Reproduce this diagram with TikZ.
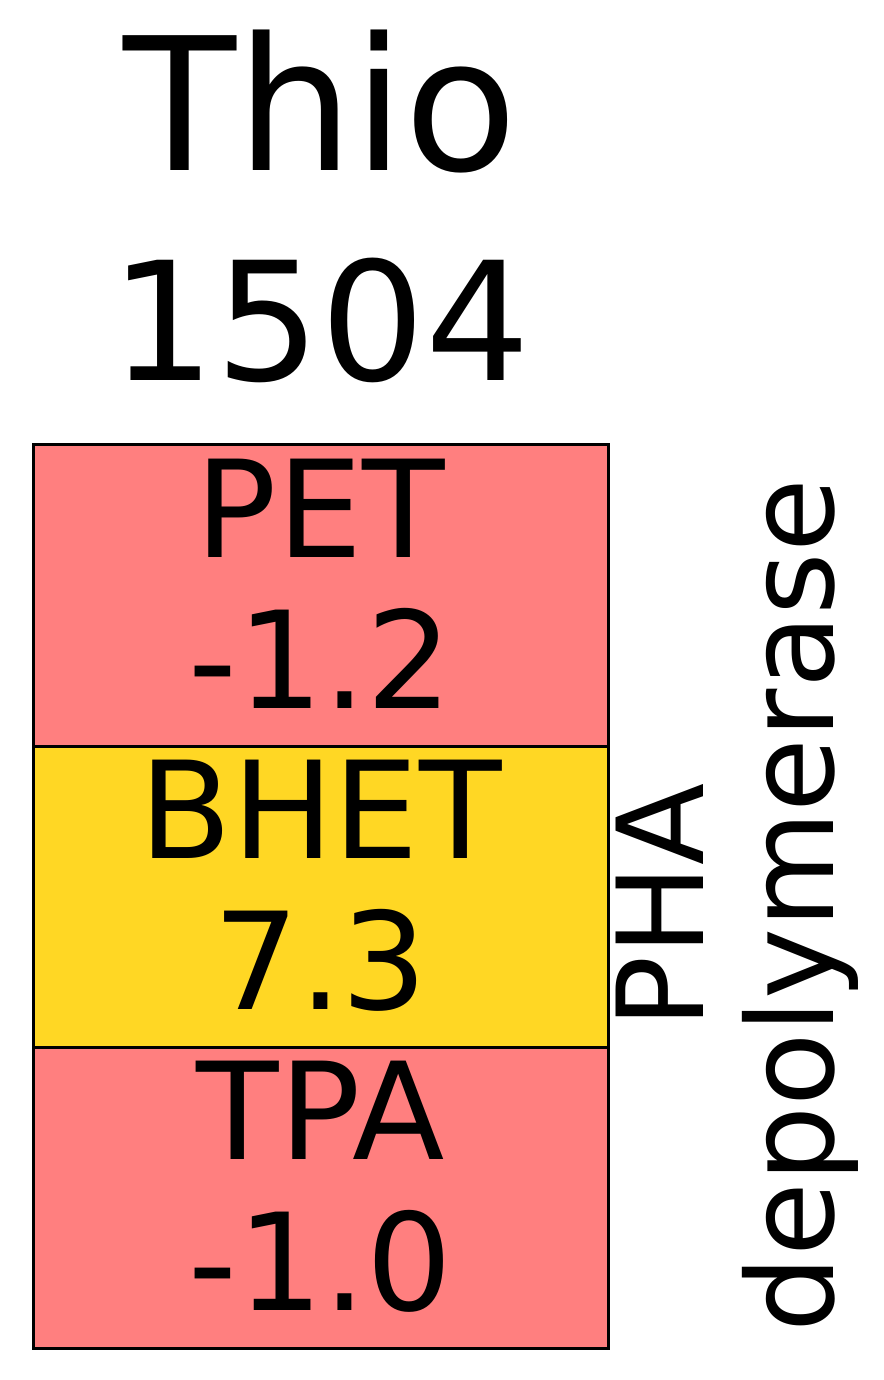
\documentclass[tikz,border=0pt]{standalone}
\usepackage{fontspec}
\setmainfont{DejaVu Sans}
\usetikzlibrary{positioning}
\definecolor{lowred}{HTML}{FF7F7F}
\definecolor{highyellow}{HTML}{FFD724}

\begin{document}
\begin{tikzpicture}[x=0.75pt, y=-0.75pt,
    cell/.style={draw, line width=2.25pt, inner sep=0pt, outer sep=0pt,
                minimum width=431.25pt, minimum height=226pt},
    value/.style={anchor=base, inner sep=0pt,
                font=\fontsize{101.25pt}{113pt}\selectfont},
    side/.style={anchor=base, rotate=90, inner sep=0pt,
                font=\fontsize{90pt}{98pt}\selectfont}
]
    \useasboundingbox (0,0) rectangle (883,1380);

    \node[anchor=base, inner sep=0pt, font=\fontsize{138.75pt}{150pt}\selectfont]
        (name) at (320.5,171) {Thio};
    \node[anchor=base, inner sep=0pt, font=\fontsize{123.75pt}{135pt}\selectfont]
        (num) at (320.5,380) {1504};

    \node[cell, fill=lowred] (pet) at (320.5,595.5) {};
    \node[cell, fill=highyellow, below=0pt of pet] (bhet) {};
    \node[cell, fill=lowred, below=0pt of bhet] (tpa) {};

    \node[value] (petname) at ([yshift=28.875pt]pet.center) {PET};
    \node[value] (petval)  at ([yshift=-84.375pt]pet.center) {-1.2};
    \node[value] (bhetname) at ([yshift=28.875pt]bhet.center) {BHET};
    \node[value] (bhetval)  at ([yshift=-84.375pt]bhet.center) {7.3};
    \node[value] (tpaname) at ([yshift=28.875pt]tpa.center) {TPA};
    \node[value] (tpaval)  at ([yshift=-84.375pt]tpa.center) {-1.0};

    \node[side] (enzyme) at (703,906) {PHA};
    \node[side] (enzymetwo) at (833,906) {depolymerase};
\end{tikzpicture}
\end{document}
